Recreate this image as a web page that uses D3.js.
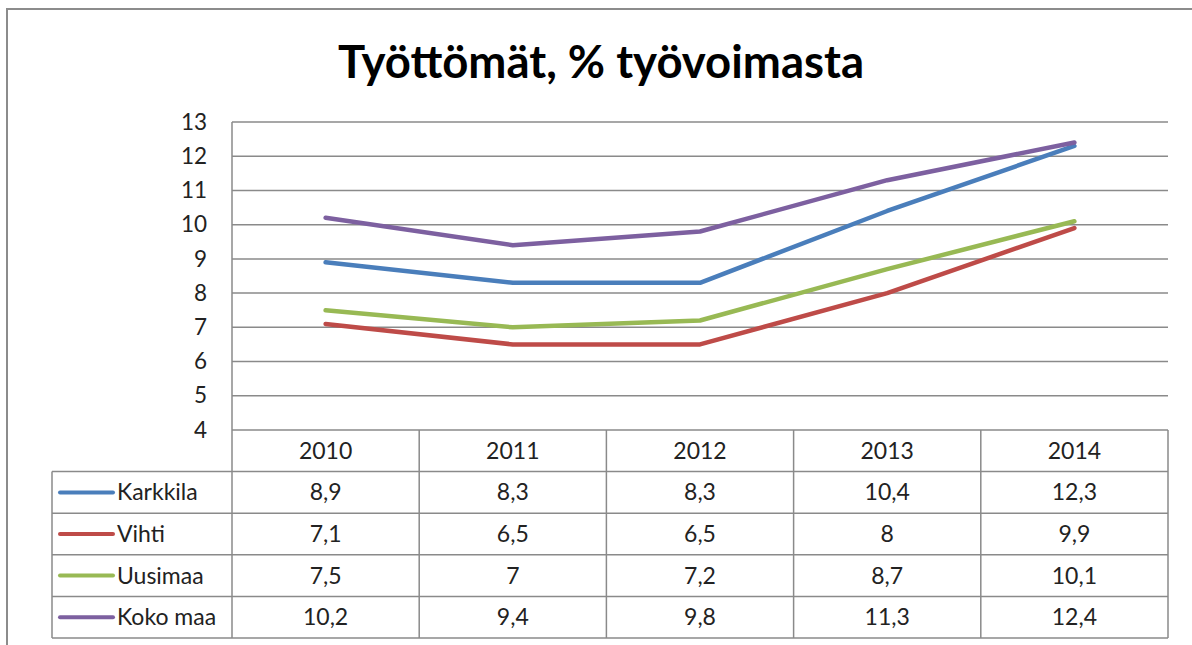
<!DOCTYPE html>
<html>
<head>
<meta charset="utf-8">
<script src="https://cdn.jsdelivr.net/npm/d3@7"></script>
<style>
  html, body { margin: 0; padding: 0; background: #fff; }
  svg { display: block; font-family: Lato, Calibri, "Noto Sans", sans-serif; }
</style>
</head>
<body>
<svg id="chart"></svg>
<script>
// data
const years = ['2010', '2011', '2012', '2013', '2014'];
const seriesNames = ['Karkkila', 'Vihti', 'Uusimaa', 'Koko maa'];
const karkkila = [8.9, 8.3, 8.3, 10.4, 12.3];
const vihti = [7.1, 6.5, 6.5, 8, 9.9];
const uusimaa = [7.5, 7, 7.2, 8.7, 10.1];
const kokoMaa = [10.2, 9.4, 9.8, 11.3, 12.4];
const yTicks = [4, 5, 6, 7, 8, 9, 10, 11, 12, 13];
const colors = ['#4a7ebb', '#be4b48', '#98b954', '#7d60a0'];

const seriesValues = [karkkila, vihti, uusimaa, kokoMaa];
const series = seriesNames.map((name, i) => ({ name, values: seriesValues[i], color: colors[i] }));

const svgWidth = 1192;
const svgHeight = 645;
const plot = { left: 232, right: 1168, top: 122, bottom: 430 };
const tableLeft = 52;
const tableBottom = 638;
const gridColor = '#8a8a8a';
const textSize = 23;

const svg = d3.select('#chart')
    .attr('width', svgWidth)
    .attr('height', svgHeight);

// outer chart frame
svg.append('rect')
    .attr('x', 7)
    .attr('y', 9)
    .attr('width', 1200)
    .attr('height', 660)
    .attr('fill', '#fff')
    .attr('stroke', '#8c8c8c')
    .attr('stroke-width', 2);

svg.append('text')
    .attr('x', 601)
    .attr('y', 78)
    .attr('text-anchor', 'middle')
    .attr('font-size', 45.5)
    .attr('font-weight', 'bold')
    .attr('fill', '#000')
    .text('Työttömät, % työvoimasta');

const x = d3.scaleBand()
    .domain(years)
    .range([plot.left, plot.right]);
const y = d3.scaleLinear()
    .domain([4, 13])
    .range([plot.bottom, plot.top]);
const row = d3.scaleBand()
    .domain(['header'].concat(seriesNames))
    .range([plot.bottom, tableBottom]);

// gridlines
svg.append('g')
    .selectAll('line')
    .data(yTicks)
    .join('line')
    .attr('x1', plot.left)
    .attr('x2', plot.right)
    .attr('y1', d => y(d))
    .attr('y2', d => y(d))
    .attr('stroke', gridColor)
    .attr('stroke-width', 1.5);

// y axis
const yAxis = svg.append('g')
    .attr('transform', `translate(${plot.left}, 0)`)
    .call(d3.axisLeft(y).tickValues(yTicks).tickSize(0).tickPadding(25));
yAxis.select('.domain').remove();
yAxis.selectAll('text')
    .attr('font-family', 'Lato, Calibri, sans-serif')
    .attr('font-size', 22.5)
    .attr('fill', '#222');

// table grid
const tg = svg.append('g')
    .attr('stroke', gridColor)
    .attr('stroke-width', 1.5)
    .attr('fill', 'none');
tg.append('line')
    .attr('x1', plot.left).attr('x2', plot.left)
    .attr('y1', plot.top).attr('y2', tableBottom);
tg.selectAll('.vcol')
    .data(years)
    .join('line')
    .attr('x1', d => x(d) + x.bandwidth())
    .attr('x2', d => x(d) + x.bandwidth())
    .attr('y1', plot.bottom)
    .attr('y2', tableBottom);
tg.append('line')
    .attr('x1', tableLeft).attr('x2', tableLeft)
    .attr('y1', row(seriesNames[0])).attr('y2', tableBottom);
tg.selectAll('.hrow')
    .data(seriesNames)
    .join('line')
    .attr('x1', tableLeft)
    .attr('x2', plot.right)
    .attr('y1', d => row(d))
    .attr('y2', d => row(d));
tg.append('line')
    .attr('x1', tableLeft).attr('x2', plot.right)
    .attr('y1', tableBottom).attr('y2', tableBottom);

// header years
svg.append('g')
    .selectAll('text')
    .data(years)
    .join('text')
    .attr('x', d => x(d) + x.bandwidth() / 2)
    .attr('y', row('header') + row.bandwidth() / 2)
    .attr('dy', '0.35em')
    .attr('text-anchor', 'middle')
    .attr('font-size', textSize)
    .attr('fill', '#222')
    .text(d => d);

// table rows: legend key + values
const rows = svg.append('g')
    .selectAll('g')
    .data(series)
    .join('g')
    .attr('transform', d => `translate(0, ${row(d.name) + row.bandwidth() / 2})`);
rows.append('line')
    .attr('x1', 60)
    .attr('x2', 113)
    .attr('stroke', d => d.color)
    .attr('stroke-width', 4)
    .attr('stroke-linecap', 'round');
rows.append('text')
    .attr('x', 117)
    .attr('dy', '0.35em')
    .attr('font-size', textSize)
    .attr('fill', '#222')
    .text(d => d.name);
rows.selectAll('.val')
    .data(d => d.values.map((v, i) => ({ year: years[i], v })))
    .join('text')
    .attr('x', d => x(d.year) + x.bandwidth() / 2)
    .attr('dy', '0.35em')
    .attr('text-anchor', 'middle')
    .attr('font-size', textSize)
    .attr('fill', '#222')
    .text(d => String(d.v).replace('.', ','));

// lines
const line = d3.line()
    .x((d, i) => x(years[i]) + x.bandwidth() / 2)
    .y(d => y(d));
svg.append('g')
    .selectAll('path')
    .data(series)
    .join('path')
    .attr('fill', 'none')
    .attr('stroke', d => d.color)
    .attr('stroke-width', 4.5)
    .attr('stroke-linejoin', 'round')
    .attr('stroke-linecap', 'round')
    .attr('d', d => line(d.values));
</script>
</body>
</html>
